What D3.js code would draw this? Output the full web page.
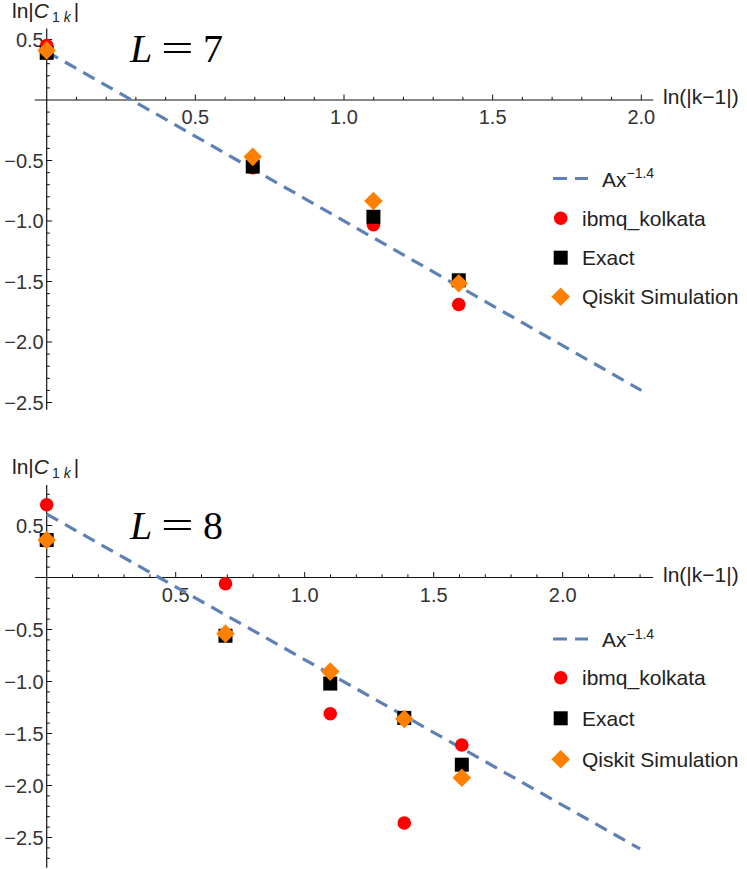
<!DOCTYPE html>
<head>
<meta charset="utf-8">
<title>ln|C1k| vs ln(|k-1|)</title>
<style>
  body { margin: 0; background: white; }
  text { font-family: "Liberation Sans", Arial, sans-serif; }
</style>
</head>
<body>
<script src="https://d3js.org/d3.v7.min.js"></script>
<script>
// values
const xL7 = [0, 0.693, 1.099, 1.386];
const ibmqL7 = [0.45, -0.56, -1.03, -1.69];
const exactL7 = [0.39, -0.55, -0.965, -1.49];
const qiskitL7 = [0.41, -0.47, -0.835, -1.515];

const xL8 = [0, 0.693, 1.099, 1.386, 1.609];
const ibmqL8 = [0.70, -0.06, -1.31, -2.36, -1.61];
const exactL8 = [0.36, -0.56, -1.02, -1.35, -1.80];
const qiskitL8 = [0.36, -0.54, -0.905, -1.36, -1.925];

// fit line ln C = lnA - 1.4 ln x
const fitSlope = -1.4;
const fitLnA = [0.40, 0.61];
const fitXEnd = [2.0, 2.3];

const xTickLabels = [0.5, 1.0, 1.5, 2.0];
const yTickLabels = [0.5, -0.5, -1.0, -1.5, -2.0, -2.5];
const legendLabels = ["ibmq_kolkata", "Exact", "Qiskit Simulation"];

let width = 747;
let height = 869;
let svg = d3.select("body").append("svg")
  .attr("width", width)
  .attr("height", height);

const blue = "#5e81b5";
const red = "#ff0000";
const orange = "#ff8000";
const fmt = d3.format(".1f");

let panels = [
  { L: 7, xs: xL7, ibmq: ibmqL7, exact: exactL7, qiskit: qiskitL7,
    xr: [46.7, 641.3], yr: [100, 402.5], xExt: [-0.04, 2.04], yExt: [0.59, -2.56],
    xMinor: [1, 20], yMinor: [-25, 5], legendY: [178.5, 218.3, 257.7, 296.7] },
  { L: 8, xs: xL8, ibmq: ibmqL8, exact: exactL8, qiskit: qiskitL8,
    xr: [46.7, 562.7], yr: [577.5, 837.5], xExt: [-0.045, 2.35], yExt: [0.89, -2.79],
    xMinor: [1, 23], yMinor: [-27, 8], legendY: [639, 677.7, 718.3, 759.3] }
];

function diamond(g, cx, cy, r) {
  g.append("path")
    .attr("d", `M${cx},${cy - r}L${cx + r},${cy}L${cx},${cy + r}L${cx - r},${cy}Z`)
    .attr("fill", orange);
}

panels.forEach(function (p, pi) {
  let x = d3.scaleLinear().domain([0, 2]).range(p.xr);
  let y = d3.scaleLinear().domain([0, -2.5]).range(p.yr);
  let g = svg.append("g");

  // axis lines
  g.append("line")
    .attr("x1", x(p.xExt[0])).attr("x2", x(p.xExt[1]))
    .attr("y1", y(0)).attr("y2", y(0))
    .attr("stroke", "#111").attr("stroke-width", 1.2);
  g.append("line")
    .attr("x1", x(0)).attr("x2", x(0))
    .attr("y1", y(p.yExt[0])).attr("y2", y(p.yExt[1]))
    .attr("stroke", "#111").attr("stroke-width", 1.2);

  // minor ticks
  let xMin = d3.range(p.xMinor[0], p.xMinor[1] + 1).map(i => i / 10);
  let yMin = d3.range(p.yMinor[0], p.yMinor[1] + 1).map(i => i / 10).filter(v => v !== 0);
  g.selectAll(".xminor").data(xMin).enter().append("line")
    .attr("x1", d => x(d)).attr("x2", d => x(d))
    .attr("y1", y(0)).attr("y2", d => y(0) - (Math.abs(d * 10 % 5) < 0.01 ? 5.5 : 3.2))
    .attr("stroke", "#111").attr("stroke-width", 1);
  g.selectAll(".yminor").data(yMin).enter().append("line")
    .attr("y1", d => y(d)).attr("y2", d => y(d))
    .attr("x1", x(0)).attr("x2", d => x(0) + (Math.abs(d * 10 % 5) < 0.01 ? 5.5 : 3.2))
    .attr("stroke", "#111").attr("stroke-width", 1);

  // tick labels
  g.selectAll(".xlab").data(xTickLabels).enter().append("text")
    .attr("x", d => x(d)).attr("y", y(0) + 24)
    .attr("text-anchor", "middle")
    .style("font-size", "20px").attr("fill", "#333")
    .text(d => fmt(d));
  g.selectAll(".ylab").data(yTickLabels).enter().append("text")
    .attr("x", x(0) - 3).attr("y", d => y(d) + 7)
    .attr("text-anchor", "end")
    .style("font-size", "20px").attr("fill", "#333")
    .text(d => fmt(d));

  // axis titles
  let yt = g.append("text")
    .attr("x", 12).attr("y", y(p.yExt[0]) - 11)
    .style("font-size", "21px").attr("fill", "#222");
  yt.append("tspan").text("ln|");
  yt.append("tspan").style("font-style", "italic").text("C");
  yt.append("tspan").attr("dy", 4).attr("dx", 3).style("font-size", "14px").text("1");
  yt.append("tspan").attr("dx", 4).style("font-size", "14px").style("font-style", "italic").text("k");
  yt.append("tspan").attr("dy", -4).attr("dx", 3).text("|");

  g.append("text")
    .attr("x", 663).attr("y", y(0) + 4)
    .style("font-size", "21px").attr("fill", "#222")
    .text("ln(|k\u22121|)");

  // L label
  let ly = y(0) - 38.3;
  g.append("text").attr("x", 130).attr("y", ly)
    .style("font-family", "'Liberation Serif', serif").style("font-size", "40px")
    .style("font-style", "italic").text("L");
  g.append("text")
    .attr("transform", `translate(161,${ly}) scale(1.45,1)`)
    .style("font-family", "'Liberation Serif', serif").style("font-size", "40px")
    .text("=");
  g.append("text").attr("x", 203).attr("y", ly)
    .style("font-family", "'Liberation Serif', serif").style("font-size", "40px")
    .text(p.L);

  // fit line
  let fitPts = [0, fitXEnd[pi]];
  g.append("path")
    .datum(fitPts)
    .attr("d", d3.line().x(d => x(d)).y(d => y(fitLnA[pi] + fitSlope * d)))
    .attr("fill", "none").attr("stroke", blue)
    .attr("stroke-width", 3.2).attr("stroke-dasharray", "13,8");

  // markers
  g.selectAll(".ibmq").data(p.xs).enter().append("circle")
    .attr("cx", d => x(d)).attr("cy", (d, i) => y(p.ibmq[i]))
    .attr("r", 6.8).attr("fill", red);
  g.selectAll(".exact").data(p.xs).enter().append("rect")
    .attr("x", d => x(d) - 7).attr("y", (d, i) => y(p.exact[i]) - 7)
    .attr("width", 14).attr("height", 14).attr("fill", "black");
  p.xs.forEach((d, i) => diamond(g, x(d), y(p.qiskit[i]), 9.3));

  // legend
  let lg = svg.append("g");
  let ly0 = p.legendY;
  lg.append("line")
    .attr("x1", 553).attr("x2", 588).attr("y1", ly0[0]).attr("y2", ly0[0])
    .attr("stroke", blue).attr("stroke-width", 3.2).attr("stroke-dasharray", "14,8");
  let ax = lg.append("text").attr("x", 602).attr("y", ly0[0] + 8)
    .style("font-size", "21px").attr("fill", "#222");
  ax.append("tspan").text("Ax");
  ax.append("tspan").attr("dy", -8.5).style("font-size", "14px").text("\u22121.4");

  lg.append("circle").attr("cx", 560.7).attr("cy", ly0[1]).attr("r", 6.8).attr("fill", red);
  lg.append("rect").attr("x", 553.7).attr("y", ly0[2] - 7).attr("width", 14).attr("height", 14).attr("fill", "black");
  diamond(lg, 560.7, ly0[3], 9.3);
  lg.selectAll(".leglab").data(legendLabels).enter().append("text")
    .attr("x", 582).attr("y", (d, i) => ly0[i + 1] + 7.5)
    .style("font-size", "21px").attr("fill", "#222")
    .text(d => d);
});
</script>
</body>
